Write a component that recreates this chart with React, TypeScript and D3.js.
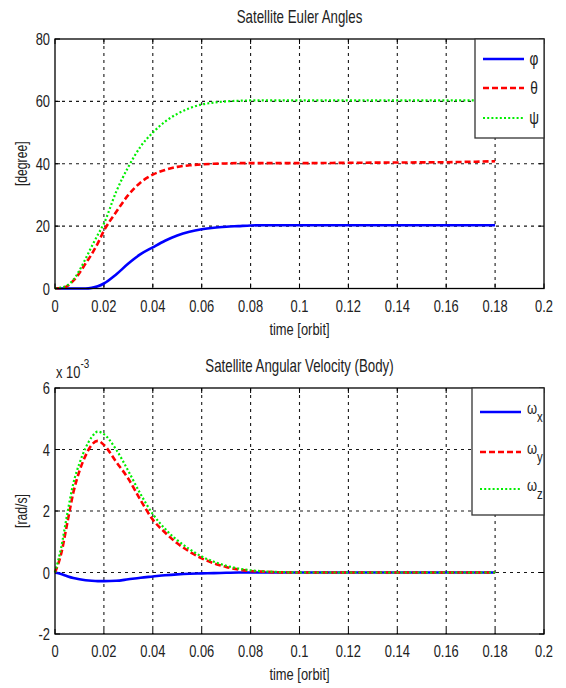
import React from "react";
import * as d3 from "d3";

// Time samples [orbit]
const time = [0, 0.0025, 0.005, 0.0075, 0.01, 0.0125, 0.015, 0.0175, 0.02, 0.025, 0.03, 0.035, 0.04, 0.045, 0.05, 0.055, 0.06, 0.065, 0.07, 0.075, 0.08, 0.085, 0.09, 0.1, 0.12, 0.14, 0.16, 0.18];

// Euler angles [degree]
const phi = [0, 0, 0, 0, 0, 0, 0.2, 0.7, 1.6, 4.5, 8, 11, 13.2, 15.3, 17, 18.2, 19, 19.5, 19.8, 20, 20.2, 20.3, 20.3, 20.3, 20.3, 20.3, 20.3, 20.3];
const theta = [0, 0.2, 0.8, 2.5, 5, 8, 11, 14.5, 18.5, 24.5, 30, 34, 36.5, 38, 39, 39.5, 39.8, 40, 40.1, 40.2, 40.2, 40.2, 40.2, 40.2, 40.3, 40.4, 40.5, 40.8];
const psi = [0, 0.3, 1, 2.8, 5.8, 9.5, 13.5, 17.2, 20.8, 31, 39, 45.5, 50, 53.5, 56, 57.8, 59, 59.6, 60, 60.2, 60.3, 60.3, 60.3, 60.3, 60.3, 60.3, 60.3, 60.3];

// Body angular rates [x 10^-3 rad/s]
const wx = [0, -0.05, -0.12, -0.18, -0.22, -0.25, -0.27, -0.28, -0.28, -0.27, -0.22, -0.17, -0.13, -0.09, -0.06, -0.04, -0.03, -0.02, -0.01, 0, 0, 0, 0, 0, 0, 0, 0, 0];
const wy = [0, 0.6, 1.6, 2.6, 3.3, 3.8, 4.15, 4.28, 4.15, 3.6, 3.05, 2.35, 1.72, 1.3, 0.95, 0.68, 0.46, 0.3, 0.18, 0.1, 0.05, 0.03, 0.01, 0, 0, 0, 0, 0];
const wz = [0, 0.8, 1.9, 2.9, 3.55, 4.05, 4.4, 4.58, 4.5, 4.0, 3.3, 2.55, 1.9, 1.42, 1.05, 0.76, 0.52, 0.35, 0.22, 0.13, 0.07, 0.04, 0.02, 0, 0, 0, 0, 0];

const xTicks = [0, 0.02, 0.04, 0.06, 0.08, 0.1, 0.12, 0.14, 0.16, 0.18, 0.2];
const xTickLabels = ["0", "0.02", "0.04", "0.06", "0.08", "0.1", "0.12", "0.14", "0.16", "0.18", "0.2"];
const angleTicks = [0, 20, 40, 60, 80];
const rateTicks = [-2, 0, 2, 4, 6];

const FONT = "'Liberation Sans', Arial, sans-serif";
const SX = 0.76;
const TEXT_COLOR = "#222";

type Style = { color: string; width: number; dash?: string };
const STYLE_SOLID: Style = { color: "#0000ff", width: 2.6 };
const STYLE_DASH: Style = { color: "#ff0000", width: 2.6, dash: "6,3" };
const STYLE_DOT: Style = { color: "#00ee00", width: 2.2, dash: "2,2.2" };

function Label(props: {
  x: number; y: number; size?: number; anchor?: string; rotate?: number; children: React.ReactNode;
}) {
  const { x, y, size = 17, anchor = "middle", rotate = 0, children } = props;
  return (
    <text
      transform={`translate(${x},${y}) rotate(${rotate}) scale(${SX},1)`}
      fontFamily={FONT}
      fontSize={size}
      fill={TEXT_COLOR}
      textAnchor={anchor}
    >
      {children}
    </text>
  );
}

type Series = { values: number[]; style: Style; name: React.ReactNode };

function Panel(props: {
  top: number; bottom: number; yDomain: [number, number]; yTicks: number[];
  series: Series[]; title: string; ylabel: string;
  legend: { x0: number; y1: number; rows: number[] };
}) {
  const { top, bottom, yDomain, yTicks, series, title, ylabel, legend } = props;
  const left = 55, right = 544;
  const x = d3.scaleLinear().domain([0, 0.2]).range([left, right]);
  const y = d3.scaleLinear().domain(yDomain).range([bottom, top]);
  const line = d3.line<number>().x((_, i) => x(time[i])).y((v) => y(v)).curve(d3.curveMonotoneX);
  const tickLen = 5;
  const midY = (top + bottom) / 2;
  return (
    <g>
      <rect x={left} y={top} width={right - left} height={bottom - top} fill="#fff" />
      {/* grid */}
      {xTicks.slice(1, -1).map((t) => (
        <line key={"gx" + t} x1={x(t)} x2={x(t)} y1={top} y2={bottom} stroke="#000" strokeWidth={1.1} strokeDasharray="3,4" opacity={0.9} />
      ))}
      {yTicks.slice(1, -1).map((t) => (
        <line key={"gy" + t} x1={left} x2={right} y1={y(t)} y2={y(t)} stroke="#000" strokeWidth={1.1} strokeDasharray="3,4" opacity={0.9} />
      ))}
      {/* ticks */}
      {xTicks.map((t) => (
        <g key={"tx" + t}>
          <line x1={x(t)} x2={x(t)} y1={bottom} y2={bottom - tickLen} stroke="#000" />
          <line x1={x(t)} x2={x(t)} y1={top} y2={top + tickLen} stroke="#000" />
        </g>
      ))}
      {yTicks.map((t) => (
        <g key={"ty" + t}>
          <line x1={left} x2={left + tickLen} y1={y(t)} y2={y(t)} stroke="#000" />
          <line x1={right} x2={right - tickLen} y1={y(t)} y2={y(t)} stroke="#000" />
        </g>
      ))}
      {/* curves */}
      {series.map((s, i) => (
        <path key={"s" + i} d={line(s.values) || ""} fill="none" stroke={s.style.color}
          strokeWidth={s.style.width} strokeDasharray={s.style.dash} />
      ))}
      <rect x={left} y={top} width={right - left} height={bottom - top} fill="none" stroke="#000" strokeWidth={1.3} />
      {/* tick labels */}
      {xTicks.map((t, i) => (
        <Label key={"lx" + t} x={x(t)} y={bottom + 23}>{xTickLabels[i]}</Label>
      ))}
      {yTicks.map((t) => (
        <Label key={"ly" + t} x={50} y={y(t) + 6} anchor="end">{String(t)}</Label>
      ))}
      <Label x={(left + right) / 2} y={top - 16} size={17.5}>{title}</Label>
      <Label x={(left + right) / 2} y={bottom + 46} size={17}>time [orbit]</Label>
      <Label x={27} y={midY} rotate={-90} size={16}>{ylabel}</Label>
      {/* legend */}
      <rect x={legend.x0} y={top} width={right - legend.x0} height={legend.y1 - top} fill="#fff" stroke="#333" strokeWidth={1.3} />
      {series.map((s, i) => (
        <g key={"lg" + i}>
          <line x1={legend.x0 + 8} x2={legend.x0 + 49} y1={legend.rows[i]} y2={legend.rows[i]}
            stroke={s.style.color} strokeWidth={s.style.width} strokeDasharray={s.style.dash} />
          {s.name}
        </g>
      ))}
    </g>
  );
}

function Omega(props: { x: number; y: number; sub: string }) {
  return (
    <text transform={`translate(${props.x},${props.y}) scale(${SX},1)`} fontFamily={FONT} fontSize={17} fill={TEXT_COLOR}>
      ω<tspan fontSize={15} dy={8}>{props.sub}</tspan>
    </text>
  );
}

export default function App() {
  const topRows = [59, 88, 118];
  const botRows = [412, 452, 489];
  const angleSeries: Series[] = [
    { values: phi, style: STYLE_SOLID, name: <Label x={534} y={topRows[0] + 6} size={18}>φ</Label> },
    { values: theta, style: STYLE_DASH, name: <Label x={534} y={topRows[1] + 6} size={18}>θ</Label> },
    { values: psi, style: STYLE_DOT, name: <Label x={534} y={topRows[2] + 6} size={18}>ψ</Label> },
  ];
  const rateSeries: Series[] = [
    { values: wx, style: STYLE_SOLID, name: <Omega x={527} y={botRows[0] + 2} sub="x" /> },
    { values: wy, style: STYLE_DASH, name: <Omega x={527} y={botRows[1] + 2} sub="y" /> },
    { values: wz, style: STYLE_DOT, name: <Omega x={527} y={botRows[2] + 2} sub="z" /> },
  ];
  return (
    <svg width={566} height={688} style={{ position: "absolute", left: 0, top: 0, background: "#fff" }}>
      <rect width={566} height={688} fill="#fff" />
      <Panel top={39} bottom={288.5} yDomain={[0, 80]} yTicks={angleTicks} series={angleSeries}
        title="Satellite Euler Angles" ylabel="[degree]" legend={{ x0: 475, y1: 138, rows: topRows }} />
      <Panel top={388} bottom={634} yDomain={[-2, 6]} yTicks={rateTicks} series={rateSeries}
        title="Satellite Angular Velocity (Body)" ylabel="[rad/s]" legend={{ x0: 472, y1: 515, rows: botRows }} />
      <text transform={`translate(56,378) scale(${SX},1)`} fontFamily={FONT} fontSize={17} fill={TEXT_COLOR}>
        x 10<tspan fontSize={13} dy={-10}>-3</tspan>
      </text>
    </svg>
  );
}
